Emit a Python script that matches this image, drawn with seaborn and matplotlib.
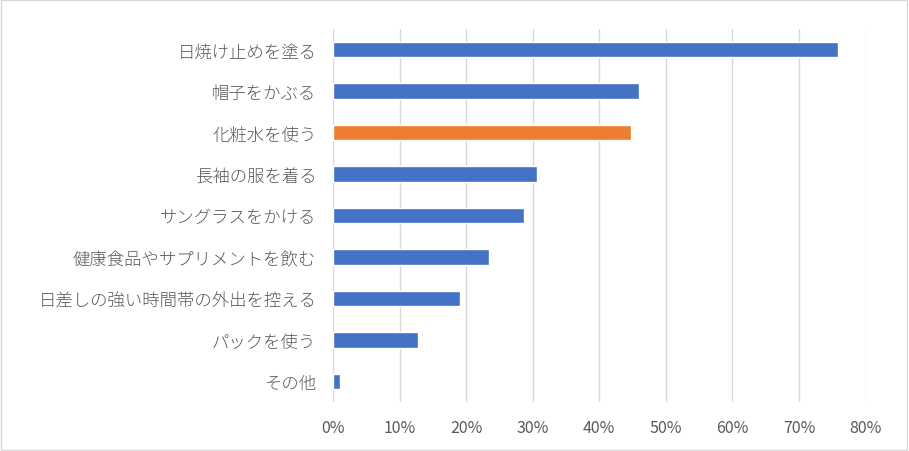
import matplotlib
matplotlib.use("Agg")
import matplotlib.pyplot as plt
import seaborn as sns
import pandas as pd
from matplotlib.patches import Rectangle
from matplotlib.ticker import FuncFormatter

# data (percent)
items = [
    "日焼け止めを塗る",
    "帽子をかぶる",
    "化粧水を使う",
    "長袖の服を着る",
    "サングラスをかける",
    "健康食品やサプリメントを飲む",
    "日差しの強い時間帯の外出を控える",
    "パックを使う",
    "その他",
]
shares = [75.8, 45.9, 44.8, 30.7, 28.7, 23.4, 19.1, 12.7, 1.1]
highlight = "化粧水を使う"

df = pd.DataFrame({"item": items, "share": shares})
df["grp"] = ["hi" if i == highlight else "base" for i in items]

sns.set_style("white")
plt.rcParams['font.family'] = ['Noto Sans CJK JP', 'DejaVu Sans']

fig = plt.figure(figsize=(9.09, 4.52), dpi=100)
ax = fig.add_axes([0.3663, 0.108, 0.586, 0.826])

sns.barplot(data=df, x="share", y="item", hue="grp", order=items,
            palette={"base": "#4472C4", "hi": "#ED7D31"},
            width=0.38, dodge=False, legend=False, saturation=1, ax=ax)

ax.set_xlim(0, 80)
ax.set_xticks(range(0, 81, 10))
ax.xaxis.set_major_formatter(FuncFormatter(lambda v, p: f"{int(v)}%"))
ax.grid(axis="x", color="#D9D9D9", linewidth=1.0)
ax.set_axisbelow(True)
for s in ax.spines.values():
    s.set_visible(False)
ax.set_xlabel("")
ax.set_ylabel("")
ax.tick_params(axis="both", length=0, labelcolor="#595959")
ax.tick_params(axis="x", pad=12, labelsize=11.5)
ax.tick_params(axis="y", pad=12, labelsize=12.5)
for t in ax.get_yticklabels():
    t.set_fontweight("light")

# chart frame
fig.patches.append(Rectangle((0.001, 0.002), 0.997, 0.995, transform=fig.transFigure,
                             fill=False, edgecolor="#D9D9D9", linewidth=1.0))

fig.savefig("out.png", dpi=100)
